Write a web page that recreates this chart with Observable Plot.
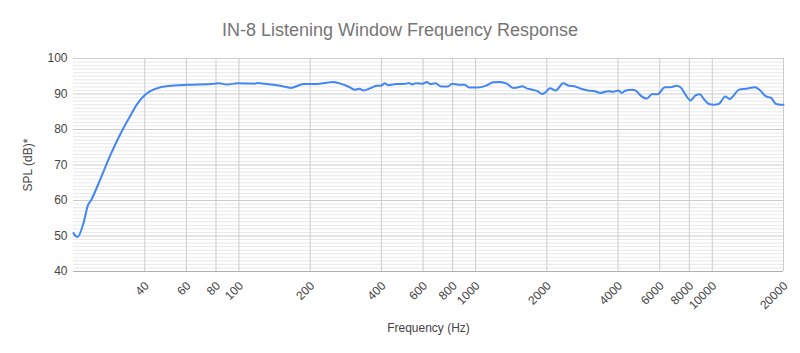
<!DOCTYPE html>
<html>
<head>
<meta charset="utf-8">
<script src="https://cdn.jsdelivr.net/npm/d3@7"></script>
<script src="https://cdn.jsdelivr.net/npm/@observablehq/plot@0.6"></script>
<style>
  html, body { margin: 0; padding: 0; background: #fff; }
  #wrap { width: 800px; height: 353px; font-family: "Liberation Sans", Arial, sans-serif; }
  #title { height: 45px; line-height: 45px; text-align: center; font-size: 18px; color: #757575; padding-top: 8px; box-sizing: border-box; }
  svg { display: block; }
</style>
</head>
<body>
<div id="wrap">
  <div id="title">IN-8 Listening Window Frequency Response</div>
  <div id="chart"></div>
</div>
<script>
const freq = [20,20.8,22.1,23.0,23.7,26.0,28.6,31.6,34.8,37.2,
  39.2,42.2,46.6,53.2,60.5,78.8,82,89,99,109,
  117,120,128,140,160,165,188,214,235,250,
  266,294,309,323,336,358,381,400,413,427,
  462,508,522,539,560,598,623,643,677,716,
  764,796,855,898,943,1024,1111,1187,1268,1354,
  1447,1520,1572,1655,1740,1825,1914,1977,2062,2182,
  2346,2488,2612,2790,2982,3186,3373,3632,3817,4012,
  4146,4285,4580,4735,4975,5278,5580,5860,6314,6665,
  7061,7340,7708,8093,8496,8862,9212,9671,10150,10650,
  11360,11830,13040,13900,15190,15820,16880,17720,18600,19500,20000];
const spl = [50.8,49.7,53.9,58.6,60.0,66.1,72.7,78.8,83.9,87.2,
  89.1,90.8,91.9,92.4,92.6,92.9,93.0,92.7,93.0,92.95,
  92.9,93.1,92.9,92.6,91.9,91.7,92.8,92.8,93.2,93.4,
  93.0,91.9,91.2,91.5,91.0,91.6,92.3,92.4,93.0,92.5,
  92.8,92.9,93.1,92.7,93.0,92.9,93.4,92.8,93.0,92.1,
  92.1,92.9,92.6,92.6,91.8,91.8,92.4,93.3,93.4,92.9,
  91.7,91.9,92.2,91.5,91.2,90.8,90.0,90.5,91.6,91.0,
  93.0,92.3,92.2,91.5,91.0,90.8,90.3,90.8,90.6,91.0,
  90.3,90.9,91.2,91.0,89.6,88.7,90.0,89.9,91.9,91.9,
  92.3,91.9,89.8,88.2,89.6,89.9,88.6,87.2,87.0,87.2,
  89.3,88.6,91.3,91.5,91.9,91.2,89.3,88.9,87.2,87.0,87.0];
const xTicks = [40,60,80,100,200,400,600,800,1000,2000,4000,6000,8000,10000,20000];
const yTicks = [40,50,60,70,80,90,100];
const yMinor = d3.range(41, 100).filter(v => v % 10 !== 0);

const data = freq.map((f, i) => ({f, v: spl[i]}));

const chart = Plot.plot({
  width: 800,
  height: 308,
  marginTop: 13,
  marginLeft: 73,
  marginRight: 17,
  marginBottom: 82,
  style: {fontFamily: "Liberation Sans, Arial, sans-serif", fontSize: "12px", color: "#444", background: "#fff"},
  x: {type: "log", domain: [20, 20000]},
  y: {domain: [40, 100]},
  marks: [
    Plot.ruleY(yMinor, {stroke: "#e8e8e8", strokeWidth: 1}),
    Plot.ruleY(yTicks.filter(v => v > 40), {stroke: "#cccccc", strokeWidth: 1}),
    Plot.ruleX(xTicks, {stroke: "#cccccc", strokeWidth: 1}),
    Plot.ruleY([40], {stroke: "#b0b0b0", strokeWidth: 1}),
    Plot.axisY({ticks: yTicks, tickSize: 0, tickPadding: 6, fontSize: 12, fill: "#444", label: "SPL (dB)*", labelAnchor: "center", labelArrow: "none", labelOffset: 50, tickFormat: d => d}),
    Plot.axisX({ticks: [], tickSize: 0, label: "Frequency (Hz)", labelAnchor: "center", labelArrow: "none", labelOffset: 60}),
    Plot.text(xTicks, {x: d => d, text: d => String(d), frameAnchor: "bottom", rotate: -45, textAnchor: "end", dx: 5, dy: 15, fontSize: 12, fill: "#444"}),
    Plot.line(data, {x: "f", y: "v", stroke: "#4285f4", strokeWidth: 2, curve: "monotone-x"})
  ]
});
document.getElementById("chart").appendChild(chart);
</script>
</body>
</html>
